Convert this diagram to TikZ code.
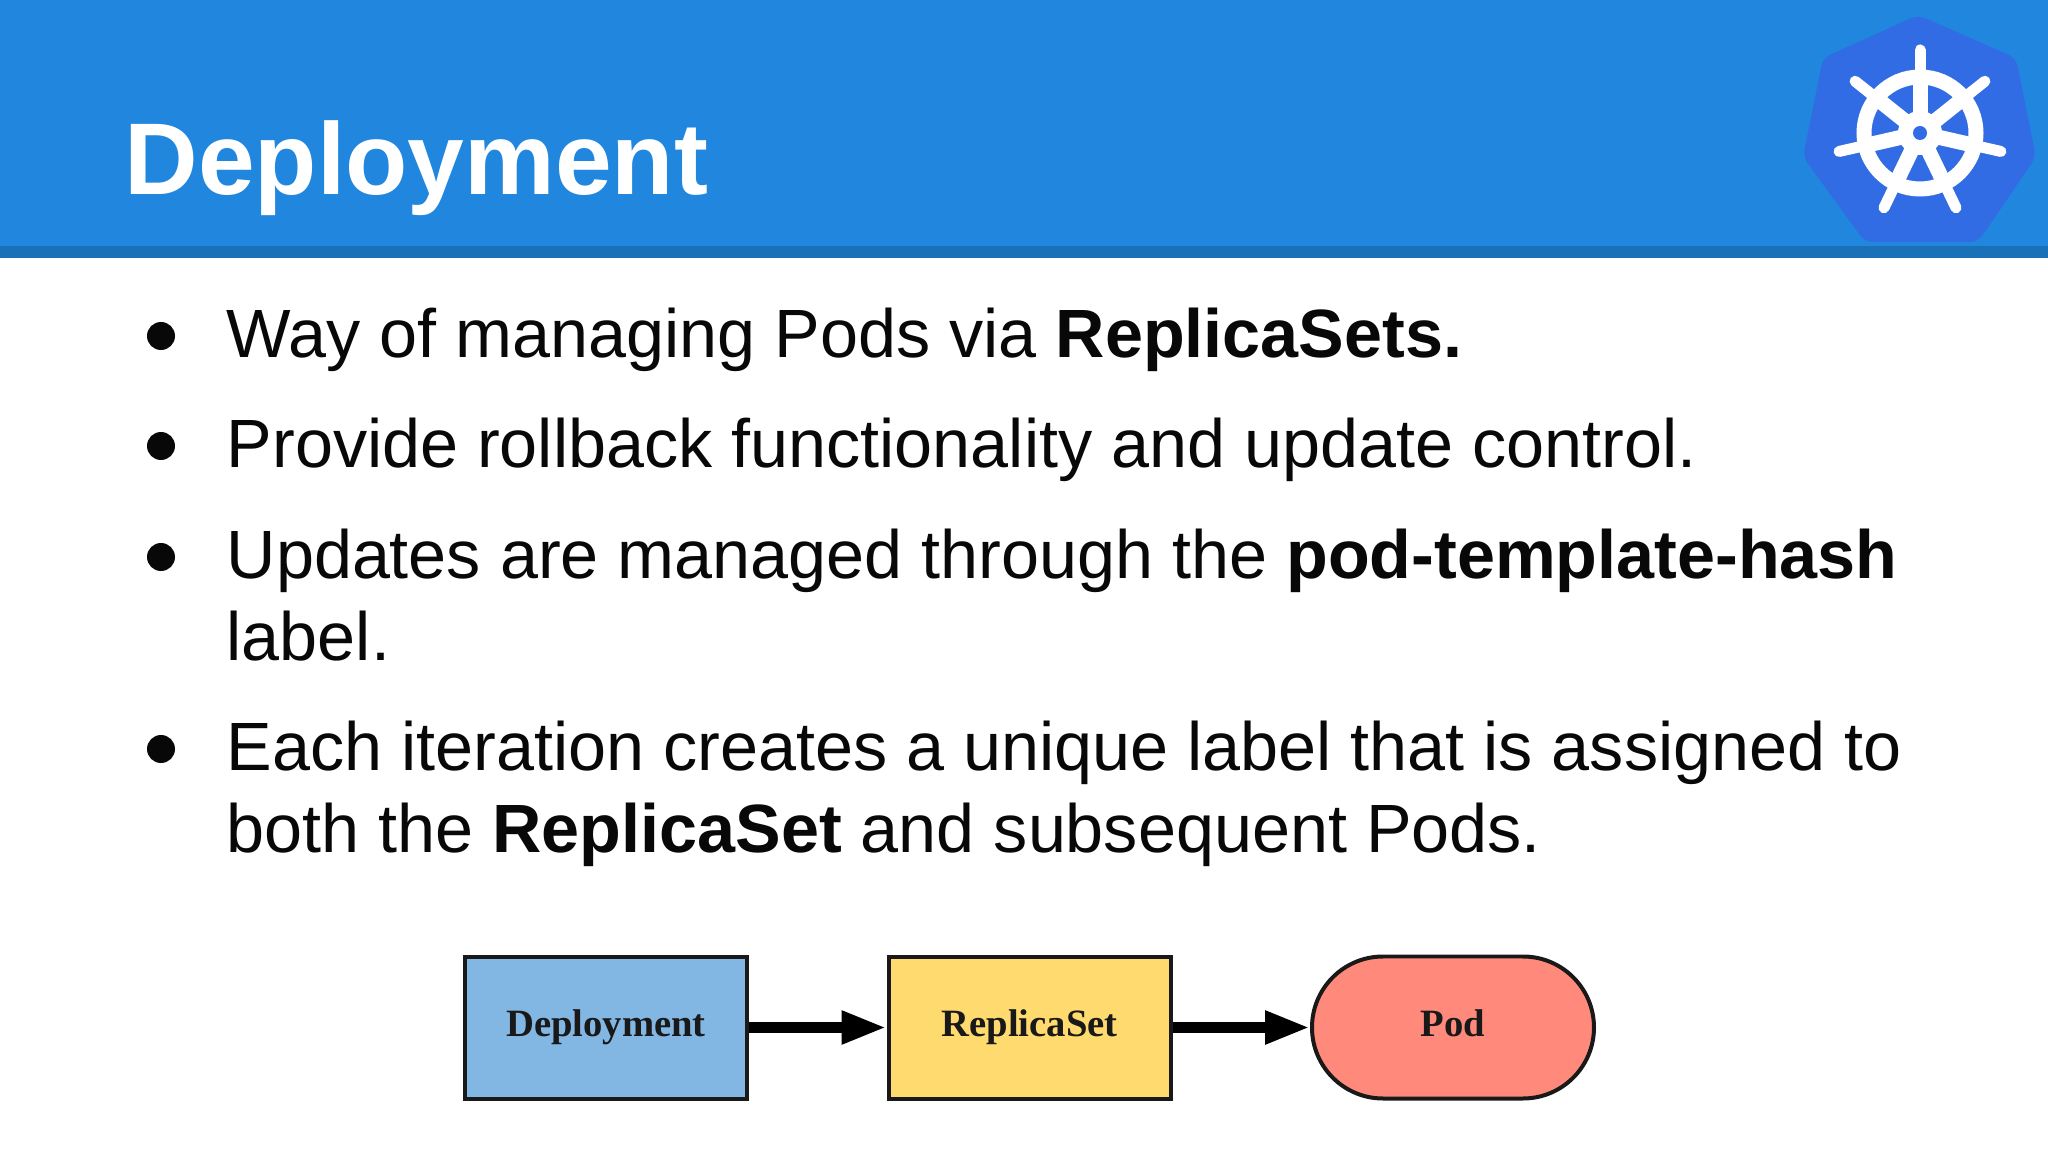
\documentclass[tikz,border=0pt]{standalone}
\usepackage{fontspec}
\setmainfont{Liberation Sans}
\newfontfamily\boxfont{Liberation Serif}
\usetikzlibrary{arrows.meta}
\definecolor{headerblue}{HTML}{2186DE}
\definecolor{headerband}{HTML}{1A71B8}
\definecolor{logoblue}{HTML}{326CE5}
\definecolor{textblack}{HTML}{080808}
\definecolor{deploymentfill}{HTML}{83B7E3}
\definecolor{replicafill}{HTML}{FFDA6E}
\definecolor{podfill}{HTML}{FF8A7C}
\tikzset{
  bodytext/.style={anchor=north west,inner sep=0pt,align=left,text=textblack,
    font=\fontsize{19.44pt}{23.33pt}\selectfont},
  bulletmark/.style={circle,fill=textblack,inner sep=0pt,minimum size=0.28cm},
  boxnode/.style={draw=black!90,line width=0.04cm,minimum width=2.82cm,minimum height=1.42cm,
    inner sep=0pt,text height=0.25cm,text depth=0.08cm,
    font=\boxfont\bfseries\fontsize{11pt}{13pt}\selectfont,text=black!90},
  flowarrow/.style={line width=0.11cm,-{Triangle[length=0.45cm,width=0.31cm]}}
}
\begin{document}
\begin{tikzpicture}
    \useasboundingbox (0,0) rectangle (20.48,-11.52);
    %% Header bar
    \fill[headerblue] (0,0) rectangle (20.48,-2.46);
    \fill[headerband] (0,-2.46) rectangle (20.48,-2.58);
    \node[anchor=base west,inner sep=0pt,text=white,font=\bfseries\fontsize{29pt}{34pt}\selectfont]
        (title) at (1.24,-1.95) {Deployment};
    %% Logo
    \begin{scope}[shift={(19.20,-1.33)}]
        \fill[logoblue,rounded corners=0.08cm] (-0.02,1.18) -- (0.96,0.75) -- (1.16,-0.24) -- (0.58,-1.09)
            -- (-0.55,-1.09) -- (-1.17,-0.24) -- (-0.97,0.75) -- cycle;
        \draw[white,line width=0.15cm] (0,0) circle (0.56);
        \foreach \a in {0,...,6} {
            \draw[white,line width=0.15cm] (0,0) -- ({90+\a*360/7}:0.62);
            \draw[white,line width=0.11cm,line cap=round] ({90+\a*360/7}:0.6) -- ({90+\a*360/7}:0.83);
        }
        \fill[white] (0,0) circle (0.22);
        \fill[logoblue] (0,0) circle (0.07);
    \end{scope}
    %% Bullet list
    \node[bulletmark] (markone) at (1.61,-3.36) {};
    \node[bodytext] (itemone) at (2.26,-3.07) {Way of managing Pods via \textbf{ReplicaSets.}};
    \node[bulletmark] (marktwo) at (1.61,-4.46) {};
    \node[bodytext] (itemtwo) at (2.26,-4.17) {Provide rollback functionality and update control.};
    \node[bulletmark] (markthree) at (1.61,-5.57) {};
    \node[bodytext] (itemthree) at (2.26,-5.28) {Updates are managed through the \textbf{pod-template-hash}\\label.};
    \node[bulletmark] (markfour) at (1.61,-7.49) {};
    \node[bodytext] (itemfour) at (2.26,-7.20) {Each iteration creates a unique label that is assigned to\\both the \textbf{ReplicaSet} and subsequent Pods.};
    %% Flow
    \node[boxnode,fill=deploymentfill] (deployment) at (6.06,-10.275) {Deployment};
    \node[boxnode,fill=replicafill] (replicaset) at (10.295,-10.275) {ReplicaSet};
    \node[boxnode,fill=podfill,rounded corners=0.71cm] (pod) at (14.53,-10.275) {Pod};
    \draw[flowarrow] (deployment) -- (replicaset);
    \draw[flowarrow] (replicaset) -- (pod);
\end{tikzpicture}
\end{document}
